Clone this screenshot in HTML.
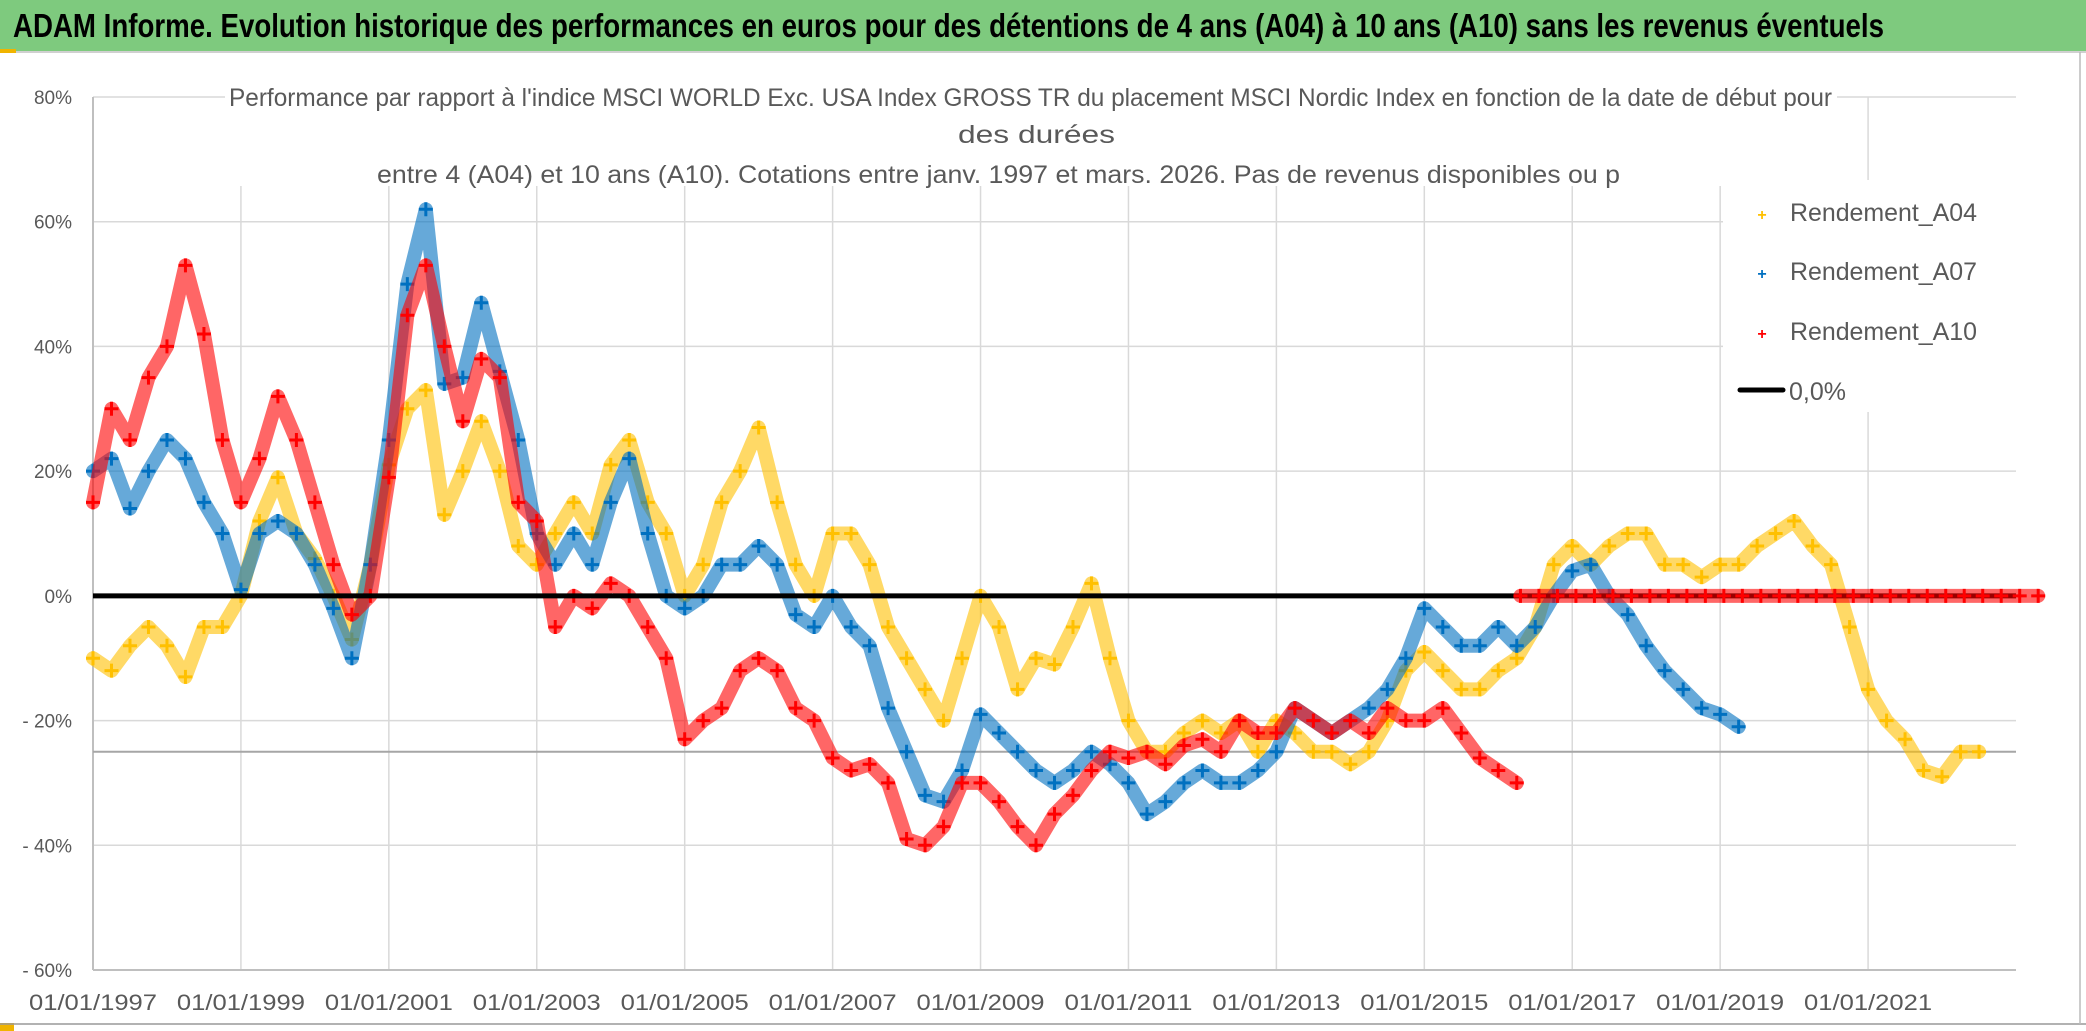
<!DOCTYPE html>
<html><head><meta charset="utf-8"><style>
html,body{margin:0;padding:0;background:#fff;}
svg{display:block;font-family:"Liberation Sans",sans-serif;}
</style></head><body>
<svg id="chart" width="2086" height="1031" viewBox="0 0 2086 1031" xmlns="http://www.w3.org/2000/svg">
<rect x="0" y="0" width="2086" height="1031" fill="#fff"/>
<rect x="0" y="0" width="2086" height="51" fill="#7ECA7E"/>
<line x1="0" y1="52" x2="2086" y2="52" stroke="#d0d0d0" stroke-width="2"/>
<rect x="0" y="49" width="16" height="4" fill="#f0b400"/>
<rect x="0" y="1023" width="14" height="8" fill="#f0b400"/>
<line x1="0" y1="1024" x2="2086" y2="1024" stroke="#999" stroke-width="1.5"/>
<line x1="2080" y1="52" x2="2080" y2="1024" stroke="#bbb" stroke-width="1.5"/>
<text x="13" y="37" font-size="33" font-weight="bold" fill="#000" textLength="1871" lengthAdjust="spacingAndGlyphs">ADAM Informe. Evolution historique des performances en euros pour des détentions de 4 ans (A04) à 10 ans (A10) sans les revenus éventuels</text>
<g id="grid"></g>
<g id="marks"></g>
<g fill="#595959" font-size="25">
<rect x="225" y="74" width="1612" height="112" fill="#fff"/>
<text x="229" y="106" textLength="1603" lengthAdjust="spacingAndGlyphs">Performance par rapport à l'indice MSCI WORLD Exc. USA Index GROSS TR  du placement MSCI Nordic Index en fonction de la date de début pour</text>
<text x="958" y="143" textLength="157" lengthAdjust="spacingAndGlyphs">des durées</text>
<text x="377" y="183" textLength="1243" lengthAdjust="spacingAndGlyphs">entre 4 (A04) et 10 ans (A10). Cotations entre janv. 1997 et mars. 2026. Pas de revenus disponibles ou p</text>
</g>
<g id="legend">
<rect x="1723" y="180" width="306" height="232" fill="#fff"/>
<g><text x="1762" y="220" font-size="16" fill="#FFC000" text-anchor="middle" font-weight="bold">+</text><text x="1790" y="221" font-size="25" fill="#595959" textLength="187" lengthAdjust="spacingAndGlyphs">Rendement_A04</text></g>
<g><text x="1762" y="279" font-size="16" fill="#0070C0" text-anchor="middle" font-weight="bold">+</text><text x="1790" y="280" font-size="25" fill="#595959" textLength="187" lengthAdjust="spacingAndGlyphs">Rendement_A07</text></g>
<g><text x="1762" y="339" font-size="16" fill="#FF0000" text-anchor="middle" font-weight="bold">+</text><text x="1790" y="340" font-size="25" fill="#595959" textLength="187" lengthAdjust="spacingAndGlyphs">Rendement_A10</text></g>
<g><line x1="1740" y1="390" x2="1783" y2="390" stroke="#000" stroke-width="5" stroke-linecap="round"/><text x="1789" y="400" font-size="25" fill="#595959">0,0%</text></g>
</g>
</svg>
<script>
const yTicks=[80,60,40,20,0,-20,-40,-60];
const yTickLabels=["80%","60%","40%","20%","0%","- 20%","- 40%","- 60%"];
const xTickYears=[1997,1999,2001,2003,2005,2007,2009,2011,2013,2015,2017,2019,2021];
const xTickLabels=["01/01/1997","01/01/1999","01/01/2001","01/01/2003","01/01/2005","01/01/2007","01/01/2009","01/01/2011","01/01/2013","01/01/2015","01/01/2017","01/01/2019","01/01/2021"];
const startYear=1997, stepYear=0.25;
const a04=[-10,-12,-8,-5,-8,-13,-5,-5,0,12,19,10,6,0,-7,5,21,30,33,13,20,28,20,8,5,10,15,10,21,25,15,10,0,5,15,20,27,15,5,0,10,10,5,-5,-10,-15,-20,-10,0,-5,-15,-10,-11,-5,2,-10,-20,-25,-25,-22,-20,-22,-20,-25,-20,-22,-25,-25,-27,-25,-20,-12,-9,-12,-15,-15,-12,-10,-5,5,8,5,8,10,10,5,5,3,5,5,8,10,12,8,5,-5,-15,-20,-23,-28,-29,-25,-25];
const a07=[20,22,14,20,25,22,15,10,1,10,12,10,5,-2,-10,5,25,50,62,34,35,47,36,25,10,5,10,5,15,22,10,0,-2,0,5,5,8,5,-3,-5,0,-5,-8,-18,-25,-32,-33,-28,-19,-22,-25,-28,-30,-28,-25,-27,-30,-35,-33,-30,-28,-30,-30,-28,-25,-18,-20,-22,-20,-18,-15,-10,-2,-5,-8,-8,-5,-8,-5,0,4,5,0,-3,-8,-12,-15,-18,-19,-21];
const a10=[15,30,25,35,40,53,42,25,15,22,32,25,15,5,-3,0,19,45,53,40,28,38,35,15,12,-5,0,-2,2,0,-5,-10,-23,-20,-18,-12,-10,-12,-18,-20,-26,-28,-27,-30,-39,-40,-37,-30,-30,-33,-37,-40,-35,-32,-28,-25,-26,-25,-27,-24,-23,-25,-20,-22,-22,-18,-20,-22,-20,-22,-18,-20,-20,-18,-22,-26,-28,-30];
const a10ZeroStart=2016.3;
const a10Zero=[0,0,0,0,0,0,0,0,0,0,0,0,0,0,0,0,0,0,0,0,0,0,0,0,0,0,0,0,0];
const refLineValue=-25;
const zeroLineValue=0;

const L=93,R=2016,T=97,B=970, Y0=1997,Y1=2023, VMAX=80,VMIN=-60;
const xs=y=>L+(y-Y0)/(Y1-Y0)*(R-L);
const ys=v=>T+(VMAX-v)/(VMAX-VMIN)*(B-T);
const NS="http://www.w3.org/2000/svg";
function mk(tag,attrs,parent){const e=document.createElementNS(NS,tag);for(const k in attrs)e.setAttribute(k,attrs[k]);parent.appendChild(e);return e;}
const grid=document.getElementById('grid'), marks=document.getElementById('marks');
yTicks.forEach((v,i)=>{
  const l=mk('line',{x1:L,x2:R,y1:ys(v),y2:ys(v),stroke:'#d9d9d9','stroke-width':1.5},grid);
  
  
  const t=mk('text',{x:72,y:ys(v)+7,'font-size':19,fill:'#595959','text-anchor':'end'},grid);
  t.textContent=yTickLabels[i];
  
  
});
xTickYears.forEach((yr,i)=>{
  const l=mk('line',{x1:xs(yr),x2:xs(yr),y1:T,y2:B,stroke:'#d9d9d9','stroke-width':1.5},grid);
  
  
  const t=mk('text',{x:xs(yr),y:1010,'font-size':22,fill:'#595959','text-anchor':'middle',textLength:128,lengthAdjust:'spacingAndGlyphs'},grid);
  t.textContent=xTickLabels[i];
  
  
});
mk('line',{x1:L,x2:L,y1:T,y2:B,stroke:'#bfbfbf','stroke-width':2},grid);
mk('line',{x1:L,x2:R,y1:B,y2:B,stroke:'#bfbfbf','stroke-width':2},grid);
const ref=mk('line',{x1:L,x2:R,y1:ys(refLineValue),y2:ys(refLineValue),stroke:'#a6a6a6','stroke-width':2},grid);



function series(vals,start,color,name){
  const g=mk('g',{},marks);
  
  
  const pts=vals.map((v,i)=>[xs(start+i*stepYear),ys(v)]);
  mk('polyline',{points:pts.map(p=>p.join(',')).join(' '),fill:'none',stroke:color,'stroke-width':14,'stroke-linejoin':'round','stroke-linecap':'round','stroke-opacity':0.6},g);
  pts.forEach(p=>{
    const c=mk('path',{d:`M${p[0]-7},${p[1]}h14M${p[0]},${p[1]-7}v14`,stroke:color,'stroke-width':3},g);
    
    
  });
}
series(a04,startYear,'#FFC000','series-a04');
series(a07,startYear,'#0070C0','series-a07');
series(a10,startYear,'#FF0000','series-a10');
const zl=mk('line',{x1:L,x2:R,y1:ys(zeroLineValue),y2:ys(zeroLineValue),stroke:'#000','stroke-width':5},marks);


series(a10Zero,a10ZeroStart,'#FF0000','series-a10-zero');
</script>
</body></html>
